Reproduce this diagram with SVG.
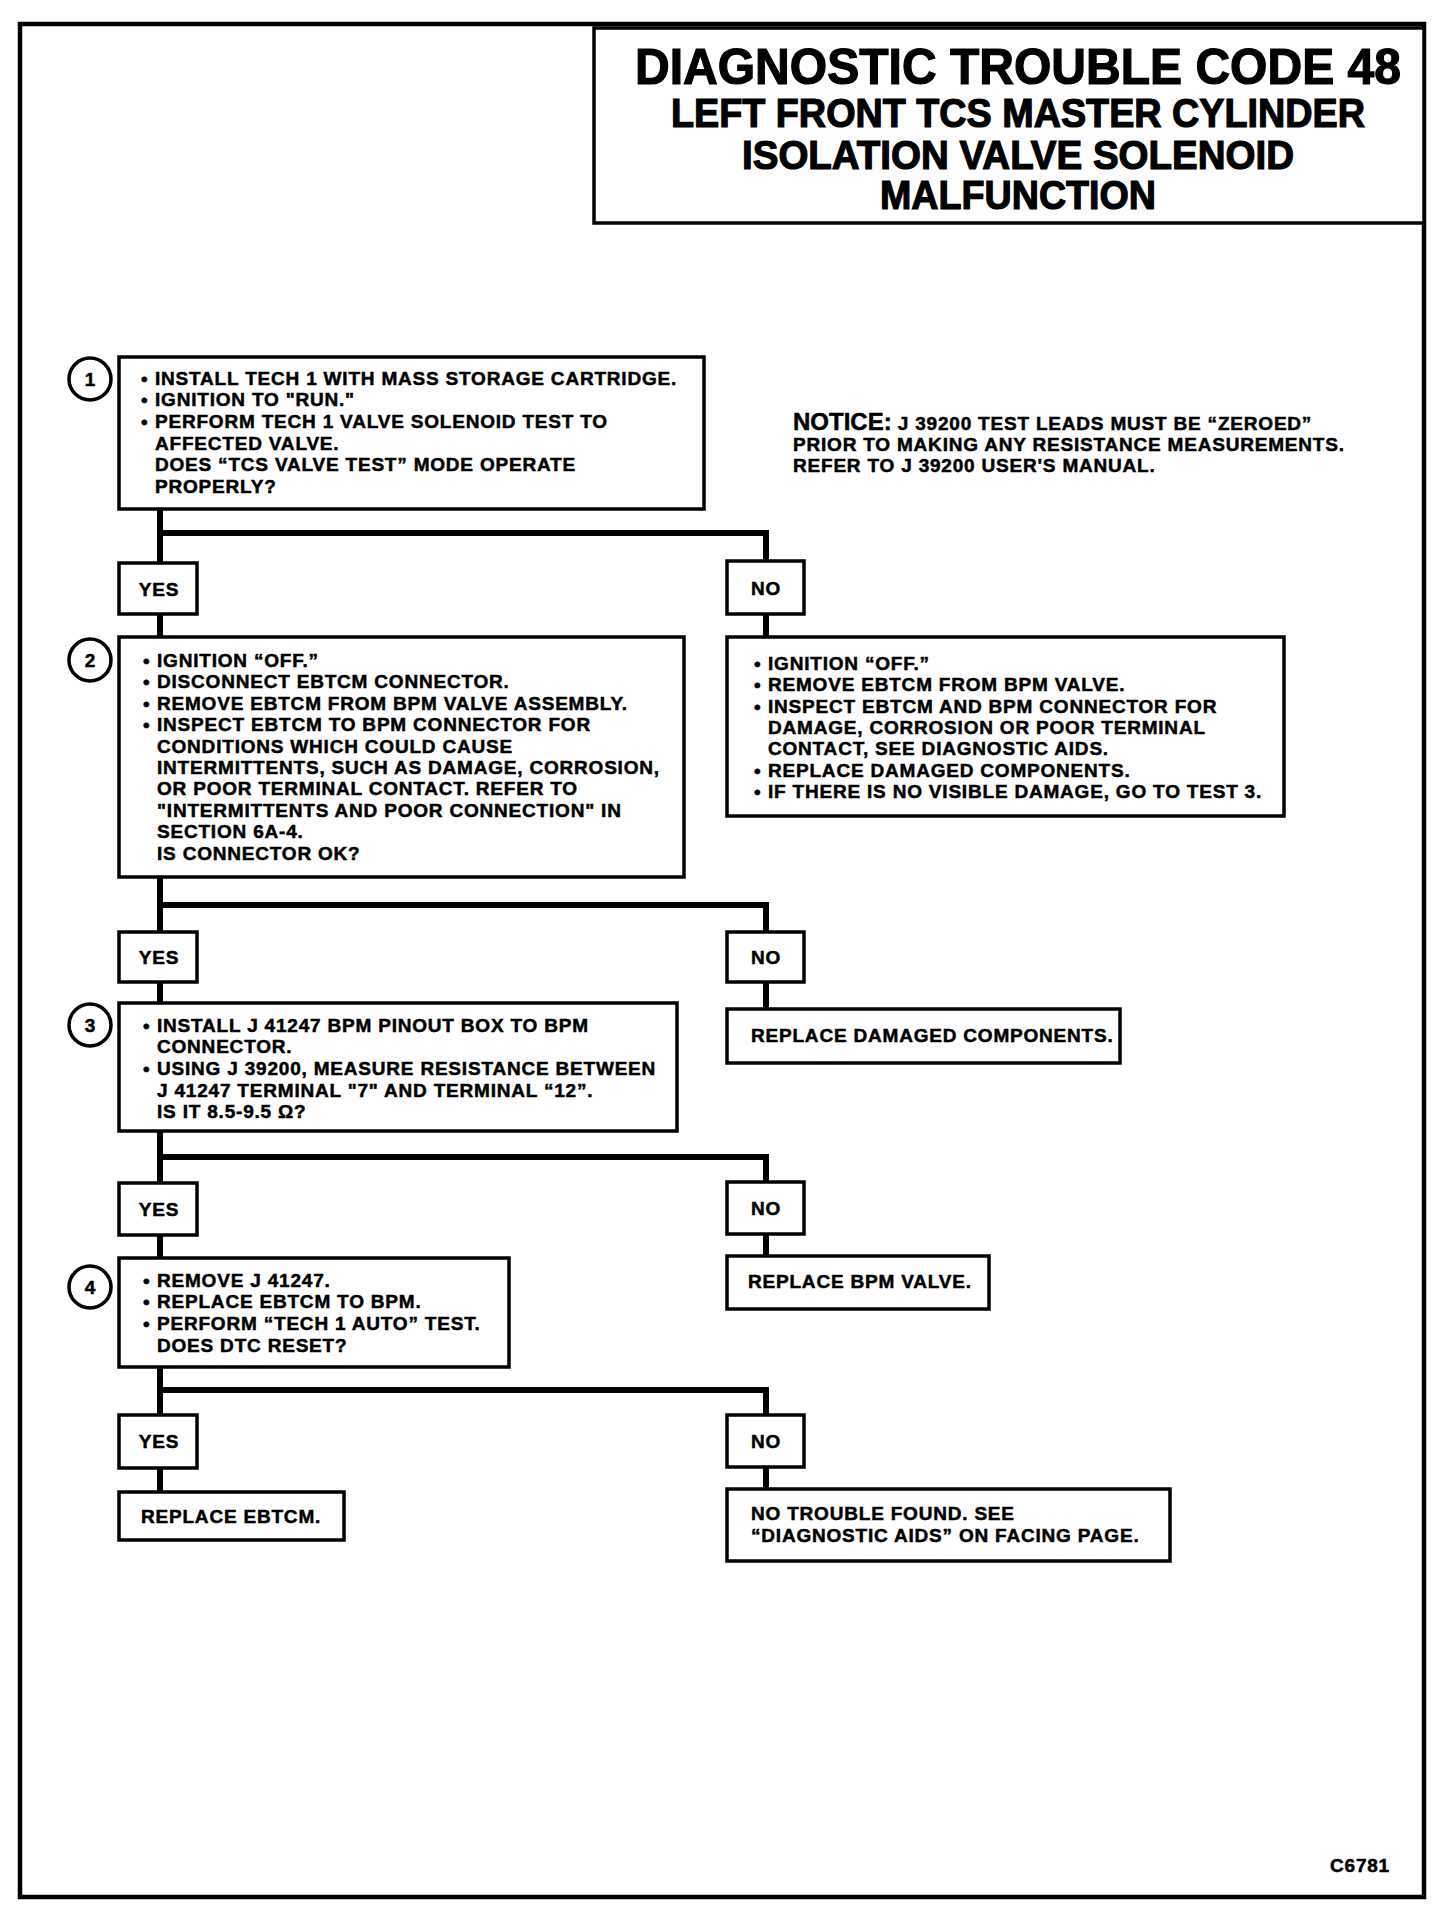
<svg xmlns="http://www.w3.org/2000/svg" width="1456" height="1916" viewBox="0 0 1456 1916">
<style>
.bx{fill:#fff;stroke:#000;stroke-width:3.5}
.frame{fill:none;stroke:#000;stroke-width:4.5}
.cn{fill:none;stroke:#000;stroke-width:6;stroke-linejoin:miter;stroke-linecap:butt}
.t{font-family:"Liberation Sans",Arial,Helvetica,sans-serif;font-weight:bold;font-size:19px;letter-spacing:0.8px;fill:#000;stroke:#000;stroke-width:0.5}
.ttl{font-family:"Liberation Sans",Arial,Helvetica,sans-serif;font-weight:bold;fill:#000;text-anchor:middle;stroke:#000;stroke-width:1.2}
.num{font-family:"Liberation Sans",Arial,Helvetica,sans-serif;font-weight:bold;font-size:19px;fill:#000;text-anchor:middle;stroke:#000;stroke-width:0.5}
.lbl{font-family:"Liberation Sans",Arial,Helvetica,sans-serif;font-weight:bold;font-size:19px;letter-spacing:0.8px;fill:#000;text-anchor:middle;stroke:#000;stroke-width:0.5}
.circ{fill:#fff;stroke:#000;stroke-width:3.5}
</style>
<rect x="0" y="0" width="1456" height="1916" fill="#fff"/>
<rect class="frame" x="20" y="24" width="1404" height="1873"/>

<g id="title">
<rect class="bx" x="594" y="28" width="830" height="195"/>
<text class="ttl" x="1018" y="84" font-size="50" textLength="766" lengthAdjust="spacingAndGlyphs">DIAGNOSTIC TROUBLE CODE 48</text>
<text class="ttl" x="1018" y="127" font-size="40" textLength="694" lengthAdjust="spacingAndGlyphs">LEFT FRONT TCS MASTER CYLINDER</text>
<text class="ttl" x="1018" y="169" font-size="40" textLength="552" lengthAdjust="spacingAndGlyphs">ISOLATION VALVE SOLENOID</text>
<text class="ttl" x="1018" y="209" font-size="40" textLength="276" lengthAdjust="spacingAndGlyphs">MALFUNCTION</text>
</g>

<g id="notice">
<text class="t" x="793" y="430"><tspan font-size="24" letter-spacing="0">NOTICE:</tspan> J 39200 TEST LEADS MUST BE “ZEROED”</text>
<text class="t" x="793" y="451">PRIOR TO MAKING ANY RESISTANCE MEASUREMENTS.</text>
<text class="t" x="793" y="472">REFER TO J 39200 USER'S MANUAL.</text>
</g>

<g id="connectors">
<path class="cn" d="M160 509 V637 M160 533 H766 V637"/>
<path class="cn" d="M160 877 V1003 M160 905 H766 V1009"/>
<path class="cn" d="M160 1131 V1258 M160 1157 H766 V1256"/>
<path class="cn" d="M160 1367 V1492 M160 1390 H766 V1489"/>
</g>

<g id="step1">
<circle class="circ" cx="90" cy="379" r="21"/>
<text class="num" x="90" y="386">1</text>
<rect class="bx" x="119" y="357" width="585" height="152"/>
<text class="t">
<tspan x="141" y="385">•</tspan><tspan x="155">INSTALL TECH 1 WITH MASS STORAGE CARTRIDGE.</tspan>
<tspan x="141" y="406">•</tspan><tspan x="155">IGNITION TO "RUN."</tspan>
<tspan x="141" y="428">•</tspan><tspan x="155">PERFORM TECH 1 VALVE SOLENOID TEST TO</tspan>
<tspan x="155" y="450">AFFECTED VALVE.</tspan>
<tspan x="155" y="471">DOES “TCS VALVE TEST” MODE OPERATE</tspan>
<tspan x="155" y="493">PROPERLY?</tspan>
</text>
</g>

<g id="yes1">
<rect class="bx" x="119" y="563" width="78" height="51"/>
<text class="lbl" x="159" y="596">YES</text>
</g>
<g id="no1">
<rect class="bx" x="727" y="561" width="77" height="53"/>
<text class="lbl" x="766" y="595">NO</text>
</g>

<g id="step2">
<circle class="circ" cx="90" cy="660" r="21"/>
<text class="num" x="90" y="667">2</text>
<rect class="bx" x="119" y="637" width="565" height="240"/>
<text class="t">
<tspan x="143" y="667">•</tspan><tspan x="157">IGNITION “OFF.”</tspan>
<tspan x="143" y="688">•</tspan><tspan x="157">DISCONNECT EBTCM CONNECTOR.</tspan>
<tspan x="143" y="710">•</tspan><tspan x="157">REMOVE EBTCM FROM BPM VALVE ASSEMBLY.</tspan>
<tspan x="143" y="731">•</tspan><tspan x="157">INSPECT EBTCM TO BPM CONNECTOR FOR</tspan>
<tspan x="157" y="753">CONDITIONS WHICH COULD CAUSE</tspan>
<tspan x="157" y="774">INTERMITTENTS, SUCH AS DAMAGE, CORROSION,</tspan>
<tspan x="157" y="795">OR POOR TERMINAL CONTACT. REFER TO</tspan>
<tspan x="157" y="817">"INTERMITTENTS AND POOR CONNECTION" IN</tspan>
<tspan x="157" y="838">SECTION 6A-4.</tspan>
<tspan x="157" y="860">IS CONNECTOR OK?</tspan>
</text>
</g>

<g id="no1action">
<rect class="bx" x="727" y="637" width="557" height="179"/>
<text class="t">
<tspan x="754" y="670">•</tspan><tspan x="768">IGNITION “OFF.”</tspan>
<tspan x="754" y="691">•</tspan><tspan x="768">REMOVE EBTCM FROM BPM VALVE.</tspan>
<tspan x="754" y="713">•</tspan><tspan x="768">INSPECT EBTCM AND BPM CONNECTOR FOR</tspan>
<tspan x="768" y="734">DAMAGE, CORROSION OR POOR TERMINAL</tspan>
<tspan x="768" y="755">CONTACT, SEE DIAGNOSTIC AIDS.</tspan>
<tspan x="754" y="777">•</tspan><tspan x="768">REPLACE DAMAGED COMPONENTS.</tspan>
<tspan x="754" y="798">•</tspan><tspan x="768">IF THERE IS NO VISIBLE DAMAGE, GO TO TEST 3.</tspan>
</text>
</g>

<g id="yes2">
<rect class="bx" x="119" y="932" width="78" height="50"/>
<text class="lbl" x="159" y="964">YES</text>
</g>
<g id="no2">
<rect class="bx" x="727" y="932" width="77" height="50"/>
<text class="lbl" x="766" y="964">NO</text>
</g>
<g id="no2action">
<rect class="bx" x="727" y="1009" width="393" height="54"/>
<text class="t" x="751" y="1042">REPLACE DAMAGED COMPONENTS.</text>
</g>

<g id="step3">
<circle class="circ" cx="90" cy="1025" r="21"/>
<text class="num" x="90" y="1032">3</text>
<rect class="bx" x="119" y="1003" width="558" height="128"/>
<text class="t">
<tspan x="143" y="1032">•</tspan><tspan x="157">INSTALL J 41247 BPM PINOUT BOX TO BPM</tspan>
<tspan x="157" y="1053">CONNECTOR.</tspan>
<tspan x="143" y="1075">•</tspan><tspan x="157">USING J 39200, MEASURE RESISTANCE BETWEEN</tspan>
<tspan x="157" y="1097">J 41247 TERMINAL "7" AND TERMINAL “12”.</tspan>
<tspan x="157" y="1118">IS IT 8.5-9.5 Ω?</tspan>
</text>
</g>

<g id="yes3">
<rect class="bx" x="119" y="1183" width="78" height="52"/>
<text class="lbl" x="159" y="1216">YES</text>
</g>
<g id="no3">
<rect class="bx" x="727" y="1182" width="77" height="52"/>
<text class="lbl" x="766" y="1215">NO</text>
</g>
<g id="no3action">
<rect class="bx" x="727" y="1256" width="262" height="53"/>
<text class="t" x="748" y="1288">REPLACE BPM VALVE.</text>
</g>

<g id="step4">
<circle class="circ" cx="90" cy="1287" r="21"/>
<text class="num" x="90" y="1294">4</text>
<rect class="bx" x="119" y="1258" width="390" height="109"/>
<text class="t">
<tspan x="143" y="1287">•</tspan><tspan x="157">REMOVE J 41247.</tspan>
<tspan x="143" y="1308">•</tspan><tspan x="157">REPLACE EBTCM TO BPM.</tspan>
<tspan x="143" y="1330">•</tspan><tspan x="157">PERFORM “TECH 1 AUTO” TEST.</tspan>
<tspan x="157" y="1352">DOES DTC RESET?</tspan>
</text>
</g>

<g id="yes4">
<rect class="bx" x="119" y="1415" width="78" height="53"/>
<text class="lbl" x="159" y="1448">YES</text>
</g>
<g id="no4">
<rect class="bx" x="727" y="1415" width="77" height="52"/>
<text class="lbl" x="766" y="1448">NO</text>
</g>
<g id="yes4action">
<rect class="bx" x="119" y="1492" width="225" height="48"/>
<text class="t" x="141" y="1523">REPLACE EBTCM.</text>
</g>
<g id="no4action">
<rect class="bx" x="727" y="1489" width="443" height="72"/>
<text class="t">
<tspan x="751" y="1520">NO TROUBLE FOUND. SEE</tspan>
<tspan x="751" y="1542">“DIAGNOSTIC AIDS” ON FACING PAGE.</tspan>
</text>
</g>

<text class="t" x="1390" y="1872" text-anchor="end" letter-spacing="0" font-size="20">C6781</text>
</svg>
